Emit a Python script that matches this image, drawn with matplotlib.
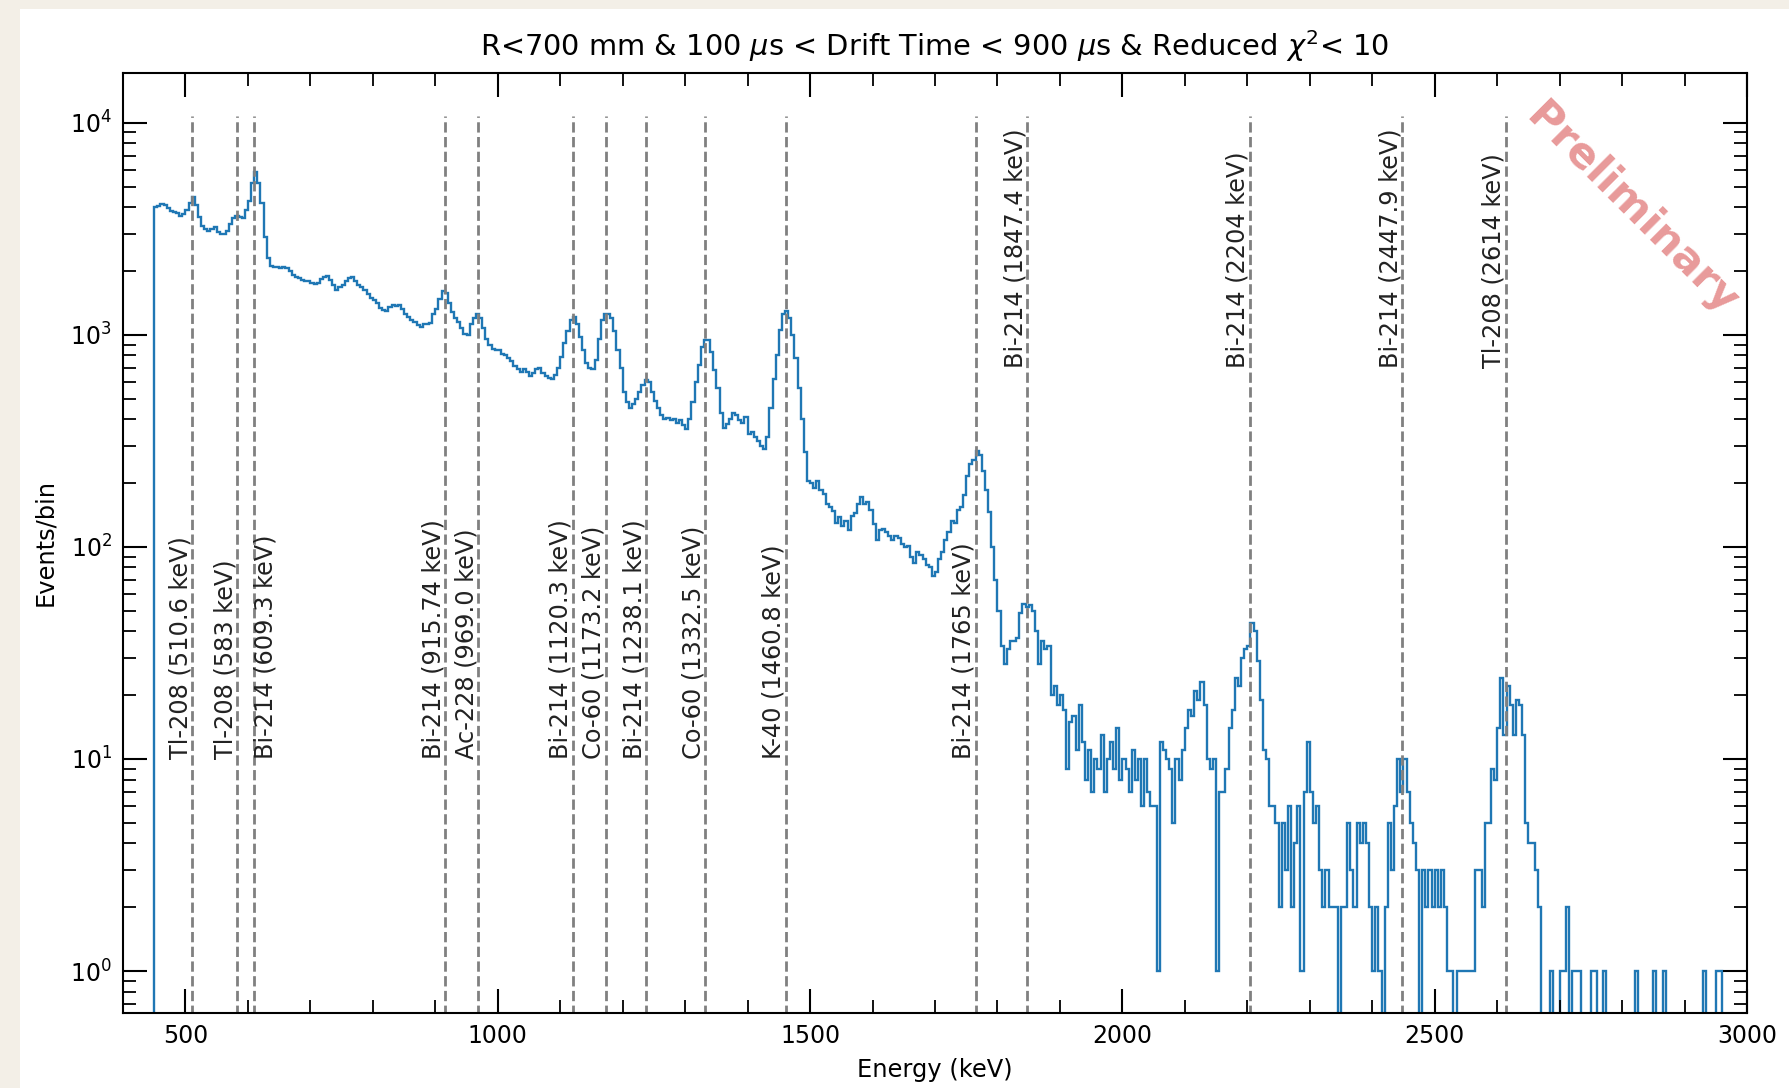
import numpy as np
import matplotlib
matplotlib.use("Agg")
import matplotlib.pyplot as plt
from matplotlib.ticker import LogLocator, MultipleLocator, NullFormatter
from matplotlib.patches import Rectangle

# 5 keV energy bins from 450 to 3000 keV
bin_edges = np.arange(450, 3001, 5)

# Events per bin, one row per 50 keV
counts = [
    4000, 4050, 4150, 4100, 3950, 3850, 3800, 3750, 3650, 3700,   # 450
    3900, 4200, 4450, 4100, 3600, 3250, 3150, 3100, 3150, 3220,   # 500
    3050, 2990, 3000, 3100, 3350, 3550, 3650, 3600, 3550, 3900,   # 550
    4300, 5200, 5850, 5200, 4200, 2900, 2300, 2120, 2080, 2100,   # 600
    2060, 2090, 2070, 2000, 1920, 1880, 1850, 1820, 1790, 1800,   # 650
    1760, 1730, 1750, 1840, 1880, 1900, 1820, 1720, 1620, 1680,   # 700
    1720, 1800, 1860, 1880, 1800, 1720, 1690, 1620, 1560, 1500,   # 750
    1460, 1420, 1340, 1310, 1300, 1360, 1380, 1375, 1385, 1330,   # 800
    1250, 1210, 1180, 1150, 1110, 1090, 1120, 1130, 1140, 1260,   # 850
    1330, 1480, 1610, 1580, 1420, 1280, 1200, 1150, 1080, 1010,   # 900
    995, 1130, 1200, 1250, 1200, 1080, 960, 900, 860, 850,        # 950
    845, 810, 800, 780, 750, 710, 690, 670, 690, 665,             # 1000
    640, 660, 690, 700, 660, 640, 625, 620, 650, 700,             # 1050
    790, 920, 1040, 1180, 1210, 1120, 980, 850, 740, 700,         # 1100
    690, 760, 960, 1180, 1260, 1250, 1200, 1040, 850, 700,        # 1150
    540, 480, 450, 470, 500, 540, 580, 610, 600, 540,             # 1200
    490, 450, 420, 400, 405, 395, 400, 385, 395, 375,             # 1250
    360, 400, 480, 600, 720, 880, 950, 950, 830, 680,             # 1300
    560, 430, 365, 380, 400, 430, 420, 395, 385, 410,             # 1350
    340, 350, 330, 315, 300, 290, 330, 450, 620, 800,             # 1400
    1050, 1260, 1300, 1200, 1000, 780, 560, 400, 280, 205,        # 1450
    200, 190, 205, 185, 178, 160, 155, 147, 130, 138,             # 1500
    125, 132, 120, 140, 145, 160, 172, 160, 162, 150,             # 1550
    128, 108, 120, 122, 118, 112, 108, 113, 110, 103,             # 1600
    100, 101, 90, 84, 95, 92, 88, 82, 80, 73,                     # 1650
    76, 88, 95, 108, 118, 132, 130, 150, 155, 175,                # 1700
    215, 246, 257, 282, 270, 228, 186, 146, 100, 70,              # 1750
    50, 34, 28, 33, 36, 36, 37, 49, 54, 52,                       # 1800
    53, 50, 40, 28, 36, 33, 34, 20, 22, 18,                       # 1850
    20, 17, 9, 15, 16, 11, 18, 12, 8, 11,                         # 1900
    7, 10, 9, 13, 7, 10, 12, 9, 14, 8,                            # 1950
    10, 9, 7, 11, 8, 10, 6, 10, 7, 6,                             # 2000
    6, 1, 12, 11, 10, 9, 5, 10, 8, 11,                            # 2050
    14, 17, 16, 21, 19, 23, 18, 10, 9, 10,                        # 2100
    1, 7, 7, 9, 14, 17, 24, 22, 30, 33,                           # 2150
    34, 44, 40, 29, 19, 11, 10, 6, 6, 5,                          # 2200
    2, 5, 3, 6, 2, 4, 6, 1, 7, 12,                                # 2250
    7, 5, 6, 3, 2, 3, 2, 2, 2, 0,                                 # 2300
    2, 2, 5, 3, 2, 5, 4, 5, 4, 2,                                 # 2350
    1, 2, 1, 0, 2, 5, 3, 6, 10, 7,                                # 2400
    10, 7, 5, 4, 3, 0, 3, 2, 3, 2,                                # 2450
    3, 2, 3, 2, 1, 1, 0, 1, 1, 1,                                 # 2500
    1, 1, 1, 3, 3, 2, 5, 5, 9, 8,                                 # 2550
    14, 24, 13, 22, 18, 13, 19, 18, 13, 5,                        # 2600
    4, 4, 3, 2, 0, 0, 0, 1, 0, 0,                                 # 2650
    1, 1, 2, 0, 1, 1, 1, 0, 0, 0,                                 # 2700
    1, 1, 0, 0, 1, 0, 0, 0, 0, 0,                                 # 2750
    0, 0, 0, 0, 1, 0, 0, 0, 0, 0,                                 # 2800
    1, 0, 0, 1, 0, 0, 0, 0, 0, 0,                                 # 2850
    0, 0, 0, 0, 0, 0, 1, 0, 0, 0,                                 # 2900
    1, 1, 0, 0, 0, 0, 0, 0, 0, 0,                                 # 2950
]

# Reference gamma lines
line_isotopes = ["Tl-208", "Tl-208", "Bi-214", "Bi-214", "Ac-228", "Bi-214",
                 "Co-60", "Bi-214", "Co-60", "K-40", "Bi-214", "Bi-214",
                 "Bi-214", "Bi-214", "Tl-208"]
line_energy_text = ["510.6", "583", "609.3", "915.74", "969.0", "1120.3",
                    "1173.2", "1238.1", "1332.5", "1460.8", "1765", "1847.4",
                    "2204", "2447.9", "2614"]
line_energies = [float(t) for t in line_energy_text]

W, H = 1789, 1088
fig = plt.figure(figsize=(W / 100, H / 100), dpi=100, facecolor="#f3efe7")
fig.patches.append(Rectangle((20 / W, 0), 1.0, (H - 9) / H,
                             transform=fig.transFigure, facecolor="white",
                             edgecolor="none", zorder=-5))

ax = fig.add_axes([123 / W, 75 / H, (1747 - 123) / W, (1015 - 75) / H],
                  zorder=2)
ax.set_facecolor("white")
ax.set_yscale("log")

ax.stairs(counts, bin_edges, baseline=0, color="#1f77b4", linewidth=1.7)

ax.vlines(line_energies, 0.1, 10720, colors="gray", linestyles="--",
          linewidth=2.0)
for iso, et, e in zip(line_isotopes, line_energy_text, line_energies):
    y_text = 10 if e < 1800 else 700
    side = "left" if et == "609.3" else "right"
    ax.text(e, y_text, f"{iso} ({et} keV)", rotation=90, ha=side,
            va="bottom", fontsize=17.3, color="#222222")

ax.set_xlim(400, 3000)
ax.set_ylim(0.634, 17170)

ax.xaxis.set_major_locator(MultipleLocator(500))
ax.xaxis.set_minor_locator(MultipleLocator(100))
ax.yaxis.set_major_locator(LogLocator(base=10, numticks=10))
ax.yaxis.set_minor_locator(LogLocator(base=10, subs=np.arange(2, 10) * 1.0,
                                      numticks=20))
ax.yaxis.set_minor_formatter(NullFormatter())

ax.tick_params(which="both", direction="in", top=True, right=True,
               labelsize=17)
ax.tick_params(which="major", length=17, width=1.5, pad=8)
ax.tick_params(which="minor", length=9.5, width=1.3)
for sp in ax.spines.values():
    sp.set_linewidth(1.5)

ax.set_xlabel("Energy (keV)", fontsize=17.4, labelpad=7)
ax.set_ylabel("Events/bin", fontsize=17.4, labelpad=9)
ax.set_title(r"R<700 mm & 100 $\mu$s < Drift Time < 900 $\mu$s & Reduced $\chi^2$< 10",
             fontsize=20.8, pad=12)

ax.text(0.929, 0.855, "Preliminary", transform=ax.transAxes, rotation=-45,
        ha="center", va="center", fontsize=31, fontweight="bold",
        color="#e89a9a")

fig.savefig("out.png", dpi=100, facecolor=fig.get_facecolor())
